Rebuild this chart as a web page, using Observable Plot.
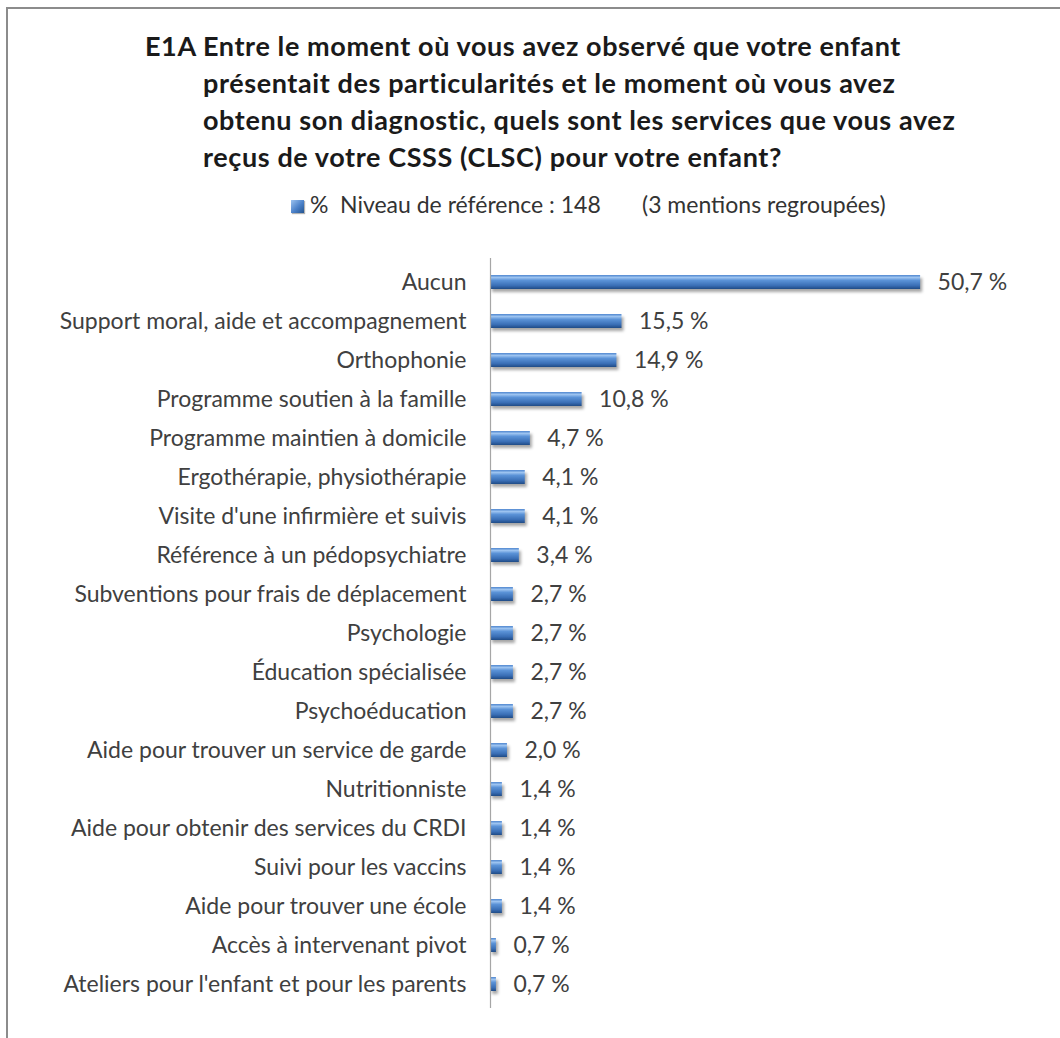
<!DOCTYPE html>
<html>
<head>
<meta charset="utf-8">
<script src="https://cdn.jsdelivr.net/npm/d3@7"></script>
<script src="https://cdn.jsdelivr.net/npm/@observablehq/plot@0.6"></script>
<style>
  html, body { margin: 0; padding: 0; background: #fff; }
  body { width: 1060px; height: 1038px; position: relative; overflow: hidden; font-family: Lato, "Open Sans", sans-serif; }
  #frame { position: absolute; left: 6px; top: 7px; right: -4px; bottom: -4px; border-left: 2px solid #8c8c8c; border-top: 2px solid #8c8c8c; }
  #title { position: absolute; left: 145px; top: 27px; font-weight: bold; font-size: 27px; line-height: 37px; color: #1a1a1a; display: flex; white-space: nowrap; letter-spacing: 0.6px; }
  #title .code { width: 58px; }
  .leg { position: absolute; top: 192px; font-size: 23px; color: #333; white-space: nowrap; line-height: 24px; }
  #sw { position: absolute; left: 291px; top: 200px; width: 13px; height: 13px; background: linear-gradient(135deg, #9cc3f0, #4a80c8 55%, #24548f); box-shadow: 1px 1px 1px rgba(0,0,0,0.3); }
  #chart { position: absolute; left: 0; top: 246px; }
  .bar rect { filter: drop-shadow(2px 3px 1.5px rgba(0,0,0,0.35)); }
</style>
</head>
<body>
<div id="frame"></div>
<div id="title"><div class="code">E1A</div><div>Entre le moment où vous avez observé que votre enfant<br>présentait des particularités et le moment où vous avez<br>obtenu son diagnostic, quels sont les services que vous avez<br>reçus de votre CSSS (CLSC) pour votre enfant?</div></div>
<div id="sw"></div>
<div class="leg" style="left:310px">%</div>
<div class="leg" style="left:340px">Niveau de référence : 148</div>
<div class="leg" style="left:642px">(3 mentions regroupées)</div>
<div id="chart"></div>
<script>
const categories = [
  "Aucun",
  "Support moral, aide et accompagnement",
  "Orthophonie",
  "Programme soutien à la famille",
  "Programme maintien à domicile",
  "Ergothérapie, physiothérapie",
  "Visite d'une infirmière et suivis",
  "Référence à un pédopsychiatre",
  "Subventions pour frais de déplacement",
  "Psychologie",
  "Éducation spécialisée",
  "Psychoéducation",
  "Aide pour trouver un service de garde",
  "Nutritionniste",
  "Aide pour obtenir des services du CRDI",
  "Suivi pour les vaccins",
  "Aide pour trouver une école",
  "Accès à intervenant pivot",
  "Ateliers pour l'enfant et pour les parents"
];
const values = [50.7, 15.5, 14.9, 10.8, 4.7, 4.1, 4.1, 3.4, 2.7, 2.7, 2.7, 2.7, 2.0, 1.4, 1.4, 1.4, 1.4, 0.7, 0.7];

const data = categories.map((c, i) => ({category: c, value: values[i]}));
const fmt = v => v.toFixed(1).replace(".", ",") + " %";

const plot = Plot.plot({
  width: 1060,
  height: 770,
  marginLeft: 490,
  marginRight: 61,
  marginTop: 12,
  marginBottom: 8,
  style: {fontFamily: "Lato, 'Open Sans', sans-serif", fontSize: "23px", color: "#404040", background: "transparent"},
  x: {domain: [0, 60], axis: null},
  y: {domain: categories, paddingInner: 0.64, paddingOuter: 0.32, label: null, tickSize: 0, tickPadding: 24},
  marks: [
    Plot.barX(data, {x: "value", y: "category", fill: "#4a7fc4", className: "bar"}),
    Plot.ruleX([0], {stroke: "#a6a6a6", strokeWidth: 1.2}),
    Plot.text(data, {x: "value", y: "category", text: d => fmt(d.value), textAnchor: "start", dx: 17, fill: "#404040", fontSize: 23}),
    Plot.axisY({tickSize: 0, tickPadding: 24, label: null, fontSize: 23})
  ]
});

// gradient for 3D-looking bars
const ns = "http://www.w3.org/2000/svg";
const defs = document.createElementNS(ns, "defs");
defs.innerHTML = `<linearGradient id="barGrad" x1="0" y1="0" x2="0" y2="1">
  <stop offset="0" stop-color="#4f86cf"/>
  <stop offset="0.18" stop-color="#9cc3f0"/>
  <stop offset="0.38" stop-color="#5b93d8"/>
  <stop offset="0.75" stop-color="#3a6fb6"/>
  <stop offset="1" stop-color="#1f4b86"/>
</linearGradient>`;
plot.insertBefore(defs, plot.firstChild);
plot.querySelectorAll(".bar rect").forEach(r => r.setAttribute("fill", "url(#barGrad)"));
document.getElementById("chart").appendChild(plot);
</script>
</body>
</html>
